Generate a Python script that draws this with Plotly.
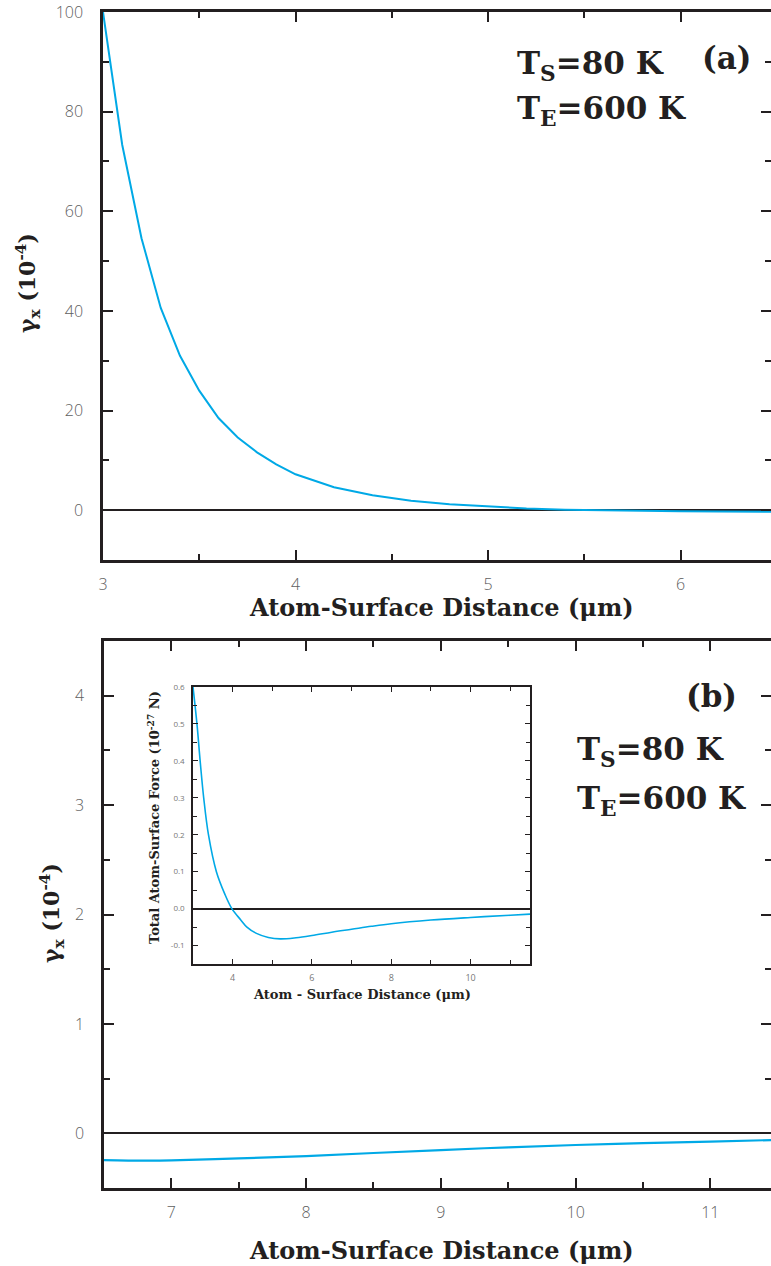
import plotly.graph_objects as go

W, H = 771, 1266

# ---------------- data ----------------
# panel (a)
xa = [3.0, 3.1, 3.2, 3.3, 3.4, 3.5, 3.6, 3.7, 3.8, 3.9, 4.0, 4.2, 4.4, 4.6, 4.8, 5.0, 5.2, 5.4, 5.6, 5.8, 6.0, 6.2, 6.5]
ya = [100, 73.3, 54.6, 40.6, 31.0, 24.0, 18.5, 14.6, 11.6, 9.2, 7.2, 4.6, 3.0, 1.9, 1.2, 0.7, 0.35, 0.1, -0.05, -0.15, -0.22, -0.27, -0.33]

# panel (b)
xb = [6.5, 6.8, 7.0, 7.5, 8.0, 8.5, 9.0, 9.5, 10.0, 10.5, 11.0, 11.5]
yb = [-0.245, -0.25, -0.248, -0.23, -0.209, -0.18, -0.153, -0.128, -0.107, -0.09, -0.077, -0.06]

# inset (total force)
xi = [3.0, 3.1, 3.18, 3.27, 3.39, 3.59, 3.8, 3.98, 4.2, 4.36, 4.6, 4.9, 5.2, 5.6, 6.0, 6.5, 7.0, 7.5, 8.0, 9.0, 10.0, 11.0, 11.5]
yi = [0.6, 0.5, 0.4, 0.3, 0.2, 0.1, 0.04, 0.0, -0.03, -0.05, -0.067, -0.078, -0.082, -0.079, -0.073, -0.064, -0.056, -0.048, -0.041, -0.031, -0.024, -0.018, -0.015]

xa_ticks = [3, 4, 5, 6]
ya_ticks = [0, 20, 40, 60, 80, 100]
xb_ticks = [7, 8, 9, 10, 11]
yb_ticks = [0, 1, 2, 3, 4]
xi_ticks = [4, 6, 8, 10]
yi_ticks = [-0.1, 0.0, 0.1, 0.2, 0.3, 0.4, 0.5, 0.6]
yi_labels = ["-0.1", "0.0", "0.1", "0.2", "0.3", "0.4", "0.5", "0.6"]

CURVE = "#00A9E6"
AX = "#231F20"
TICKFONT = dict(family="Open Sans", size=16, color="#606060", weight=300)
SERIF = "DejaVu Serif"


def px(x):
    return x / W


def py(y):
    return 1 - y / H


fig = go.Figure()
fig.add_trace(go.Scatter(x=xa, y=ya, mode="lines", line=dict(color=CURVE, width=2),
                         xaxis="x", yaxis="y", showlegend=False))
fig.add_trace(go.Scatter(x=xb, y=yb, mode="lines", line=dict(color=CURVE, width=2.2, shape="spline"),
                         xaxis="x2", yaxis="y2", showlegend=False))
fig.add_trace(go.Scatter(x=xi, y=yi, mode="lines", line=dict(color=CURVE, width=1.6, shape="spline"),
                         xaxis="x3", yaxis="y3", showlegend=False))


def axis_common(**kw):
    d = dict(showline=True, linecolor=AX, linewidth=2.5, mirror="ticks", ticks="inside",
             tickcolor=AX, tickwidth=2, ticklen=10, showgrid=False, zeroline=False,
             tickfont=TICKFONT, automargin=False)
    d.update(kw)
    return d


layout = dict(
    width=W, height=H,
    margin=dict(l=0, r=0, t=0, b=0, autoexpand=False),
    paper_bgcolor="white", plot_bgcolor="white",
    xaxis=axis_common(domain=[px(103), 1], anchor="y", range=[3, 6.47],
                      tickvals=xa_ticks, ticklabelstandoff=8,
                      minor=dict(dtick=0.5, ticks="inside", ticklen=6, tickcolor=AX, tickwidth=1.5)),
    yaxis=axis_common(domain=[py(560), py(12)], anchor="x", range=[-10, 100],
                      tickvals=ya_ticks, zeroline=True, zerolinecolor=AX, zerolinewidth=2,
                      ticklabelstandoff=14,
                      minor=dict(dtick=10, ticks="inside", ticklen=6, tickcolor=AX, tickwidth=1.5)),
    xaxis2=axis_common(domain=[px(104), 1], anchor="y2", range=[6.5, 11.45],
                       tickvals=xb_ticks, ticklabelstandoff=8,
                       minor=dict(dtick=0.5, ticks="inside", ticklen=6, tickcolor=AX, tickwidth=1.5)),
    yaxis2=axis_common(domain=[py(1188), py(641)], anchor="x2", range=[-0.5, 4.5],
                       tickvals=yb_ticks, zeroline=True, zerolinecolor=AX, zerolinewidth=2,
                       ticklabelstandoff=14,
                       minor=dict(dtick=0.5, ticks="inside", ticklen=6, tickcolor=AX, tickwidth=1.5)),
    xaxis3=axis_common(domain=[px(193), px(530)], anchor="y3", range=[3, 11.5],
                       tickvals=xi_ticks, linewidth=1.5, tickwidth=1, ticklen=5,
                       tickfont=dict(family="Open Sans", size=9, color="#777"), ticklabelstandoff=4,
                       minor=dict(dtick=1, ticks="inside", ticklen=4, tickcolor=AX, tickwidth=1)),
    yaxis3=axis_common(domain=[py(964), py(687)], anchor="x3", range=[-0.15, 0.6],
                       tickvals=yi_ticks, ticktext=yi_labels, linewidth=1.5, tickwidth=1, ticklen=5,
                       zeroline=True, zerolinecolor=AX, zerolinewidth=1.5,
                       tickfont=dict(family="Open Sans", size=8, color="#777"), ticklabelstandoff=5,
                       minor=dict(dtick=0.05, ticks="inside", ticklen=4, tickcolor=AX, tickwidth=1)),
)
fig.update_layout(**layout)

ann = []


def text(x, y, s, size, angle=0, xanchor="center", yanchor="middle", color="#231F20"):
    ann.append(dict(x=px(x), y=py(y), xref="paper", yref="paper", text=s, showarrow=False,
                    textangle=angle, xanchor=xanchor, yanchor=yanchor,
                    font=dict(family=SERIF, size=size, color=color, weight="bold")))


# axis titles
text(441, 607, "Atom-Surface Distance (μm)", 24)
text(441, 1250, "Atom-Surface Distance (μm)", 24)
text(28, 283, "γ<sub>x</sub> (10<sup>-4</sup>)", 22, angle=-90)
text(52, 913, "γ<sub>x</sub> (10<sup>-4</sup>)", 22, angle=-90)

# panel labels
text(515, 66, "T<sub>S</sub>=80 K", 31, xanchor="left")
text(515, 110, "T<sub>E</sub>=600 K", 31, xanchor="left")
text(726, 58, "(a)", 31)
text(575, 752, "T<sub>S</sub>=80 K", 31, xanchor="left")
text(575, 800, "T<sub>E</sub>=600 K", 31, xanchor="left")
text(711, 696, "(b)", 31)

# inset titles
text(362, 994, "Atom - Surface Distance (μm)", 13)
text(153, 818, "Total Atom-Surface Force (10<sup>-27</sup> N)", 13, angle=-90)

fig.update_layout(annotations=ann)
fig.write_html("out.html")
